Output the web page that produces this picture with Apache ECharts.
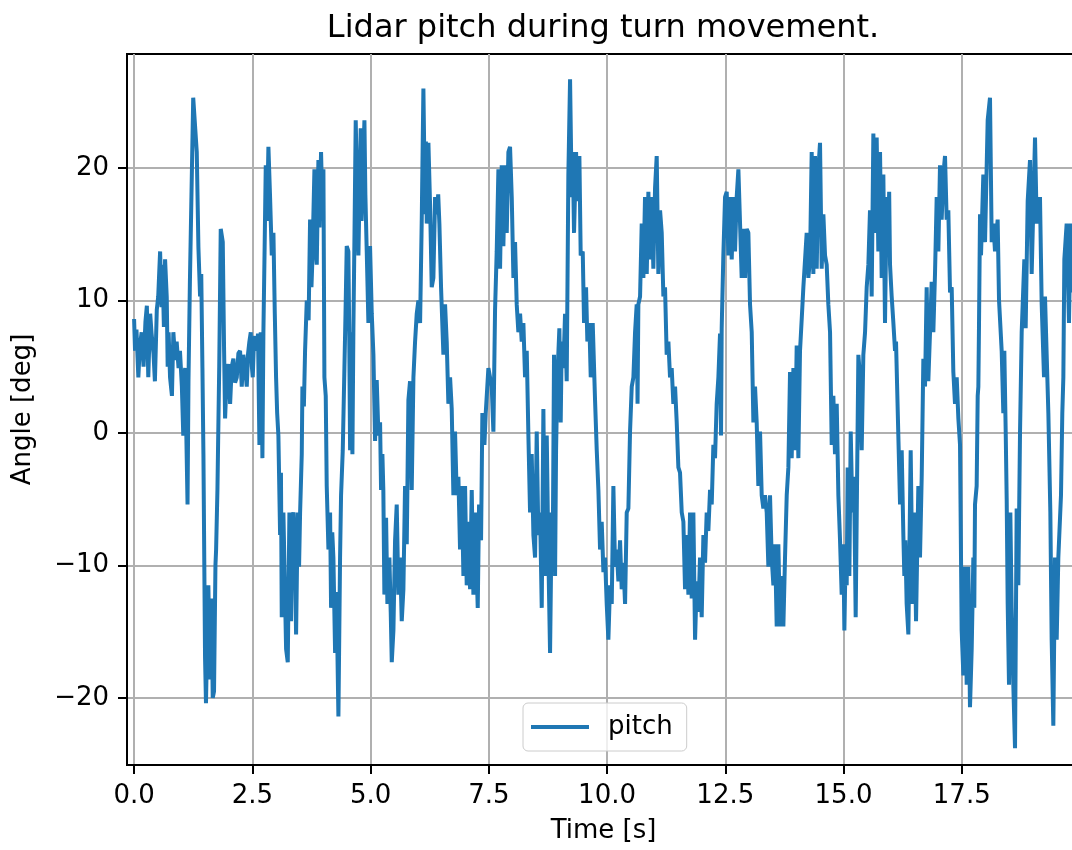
<!DOCTYPE html>
<html>
<head>
<meta charset="utf-8">
<script src="https://cdn.jsdelivr.net/npm/echarts@6/dist/echarts.min.js"></script>
<style>html,body{margin:0;padding:0;background:#fff}#c{width:1072px;height:850px}</style>
</head>
<body>
<div id="c"></div>
<script>
const xTicks = [0, 2.5, 5, 7.5, 10, 12.5, 15, 17.5];
const yTicks = [-20, -10, 0, 10, 20];
const time = [
0.00,0.02,0.05,0.09,0.12,0.16,0.20,0.24,0.27,0.30,0.34,0.37,0.41,0.44,0.48,0.51,0.55,0.58,0.60,0.63,
0.655,0.69,0.71,0.73,0.76,0.80,0.83,0.87,0.90,0.94,0.97,1.01,1.04,1.06,1.08,1.11,1.13,1.15,1.18,1.22,
1.25,1.29,1.325,1.36,1.395,1.42,1.445,1.466,1.50,1.52,1.55,1.57,1.607,1.635,1.663,1.69,1.72,1.734,1.762,1.80,
1.832,1.875,1.903,1.924,1.96,1.994,2.03,2.065,2.10,2.135,2.171,2.205,2.241,2.276,2.311,2.345,2.382,2.41,2.438,2.467,
2.49,2.509,2.535,2.558,2.593,2.62,2.65,2.678,2.70,2.713,2.734,2.76,2.784,2.81,2.84,2.875,2.911,2.946,2.975,3.002,
3.025,3.051,3.087,3.105,3.122,3.157,3.19,3.214,3.249,3.284,3.30,3.319,3.345,3.369,3.40,3.425,3.46,3.488,3.51,3.545,
3.559,3.59,3.615,3.651,3.69,3.721,3.75,3.77,3.813,3.84,3.862,3.897,3.92,3.953,3.98,4.003,4.024,4.052,4.073,4.109,
4.144,4.165,4.19,4.214,4.25,4.28,4.32,4.355,4.376,4.412,4.447,4.47,4.496,4.531,4.55,4.567,4.588,4.616,4.637,4.66,
4.686,4.715,4.743,4.77,4.792,4.81,4.834,4.87,4.89,4.919,4.954,4.989,5.025,5.06,5.095,5.13,5.166,5.201,5.222,5.25,
5.27,5.292,5.328,5.356,5.398,5.426,5.448,5.483,5.518,5.553,5.588,5.624,5.659,5.694,5.729,5.765,5.80,5.835,5.87,5.906,
5.941,5.976,6.011,6.047,6.082,6.117,6.152,6.17,6.188,6.223,6.258,6.293,6.328,6.364,6.399,6.43,6.455,6.49,6.54,6.575,
6.61,6.645,6.681,6.716,6.751,6.786,6.822,6.857,6.892,6.927,6.963,6.998,7.033,7.068,7.104,7.139,7.174,7.209,7.266,7.294,
7.336,7.364,7.407,7.435,7.46,7.491,7.526,7.562,7.597,7.632,7.667,7.703,7.738,7.773,7.808,7.844,7.879,7.914,7.949,7.985,
8.02,8.055,8.09,8.125,8.161,8.196,8.231,8.266,8.302,8.337,8.372,8.407,8.443,8.478,8.513,8.548,8.584,8.619,8.654,8.689,
8.725,8.76,8.795,8.83,8.851,8.879,8.901,8.922,8.95,8.992,9.02,9.042,9.077,9.112,9.147,9.182,9.218,9.253,9.274,9.302,
9.345,9.373,9.415,9.443,9.486,9.514,9.556,9.584,9.626,9.655,9.697,9.746,9.782,9.817,9.852,9.887,9.923,9.958,9.993,10.028,
10.063,10.099,10.134,10.169,10.204,10.24,10.275,10.31,10.345,10.381,10.416,10.451,10.486,10.522,10.557,10.592,10.627,10.645,10.662,10.698,
10.733,10.768,10.803,10.839,10.874,10.909,10.944,10.979,11.015,11.05,11.085,11.121,11.156,11.191,11.226,11.261,11.297,11.332,11.367,11.402,
11.438,11.473,11.508,11.543,11.579,11.614,11.649,11.684,11.72,11.755,11.79,11.825,11.861,11.896,11.931,11.966,12.001,12.037,12.072,12.107,
12.142,12.178,12.213,12.248,12.283,12.318,12.354,12.389,12.41,12.424,12.459,12.495,12.53,12.565,12.60,12.636,12.671,12.706,12.741,12.777,
12.812,12.847,12.882,12.918,12.953,12.988,13.023,13.059,13.094,13.129,13.164,13.199,13.235,13.27,13.305,13.34,13.376,13.411,13.446,13.481,
13.517,13.552,13.587,13.622,13.658,13.693,13.728,13.763,13.799,13.834,13.869,13.904,13.94,13.975,14.01,14.045,14.08,14.116,14.151,14.186,
14.221,14.256,14.292,14.327,14.362,14.397,14.433,14.468,14.503,14.538,14.574,14.609,14.644,14.679,14.715,14.75,14.785,14.82,14.856,14.891,
14.926,14.961,14.996,15.018,15.046,15.067,15.088,15.123,15.152,15.187,15.222,15.257,15.293,15.314,15.349,15.384,15.419,15.455,15.49,15.525,
15.56,15.595,15.631,15.666,15.701,15.736,15.772,15.807,15.842,15.877,15.913,15.948,15.965,15.983,16.018,16.054,16.089,16.11,16.159,16.195,
16.23,16.265,16.286,16.307,16.335,16.371,16.42,16.462,16.497,16.533,16.582,16.617,16.653,16.688,16.723,16.758,16.793,16.829,16.864,16.899,
16.934,16.97,17.005,17.04,17.075,17.11,17.146,17.181,17.216,17.252,17.287,17.322,17.357,17.393,17.428,17.463,17.498,17.534,17.569,17.604,
17.639,17.674,17.71,17.745,17.765,17.78,17.815,17.837,17.851,17.865,17.886,17.907,17.956,17.992,18.048,18.097,18.133,18.168,18.203,18.259,
18.288,18.344,18.379,18.40,18.429,18.45,18.471,18.499,18.527,18.555,18.59,18.626,18.661,18.696,18.732,18.767,18.823,18.851,18.894,18.943,
18.978,19.049,19.084,19.154,19.19,19.239,19.26,19.331,19.373,19.401,19.436,19.471,19.507,19.542,19.598,19.626,19.648,19.669,19.718,19.767,
19.803,19.831
];
const pitch = [
8.6,6.2,7.8,4.2,6.5,7.6,5.0,8.4,9.6,4.2,9.0,7.5,6.0,3.9,9.3,10.3,13.7,9.5,12.7,8.0,
13.1,10.3,5.0,7.6,4.2,2.8,7.6,5.5,6.9,4.9,6.2,3.5,-0.2,4.0,4.9,4.9,-5.4,4.0,11.4,11.4,
25.3,25.3,21.2,14.0,10.3,12.0,4.9,-1.6,-16.9,-20.4,-14.6,-11.5,-18.6,-12.5,-20.0,-19.5,-10.0,-8.8,-4.3,5.0,
15.4,14.4,6.2,1.1,4.5,5.2,2.2,5.0,5.6,3.8,4.2,6.0,6.2,3.5,5.9,5.0,3.5,6.0,6.9,7.6,
5.0,4.2,7.0,7.3,6.2,7.5,-0.9,7.6,3.0,-1.9,7.6,14.0,20.2,16.0,21.6,17.8,13.4,15.1,9.0,4.2,
1.5,-0.2,-7.7,-3.0,-13.9,-6.0,-12.0,-16.3,-17.3,-6.0,-10.0,-14.2,-6.5,-6.0,-8.8,-15.2,-6.0,-10.1,-6.0,-1.6,
3.5,2.0,6.2,10.0,8.5,16.1,11.0,13.1,19.9,14.0,12.7,20.6,15.5,21.2,17.0,19.9,4.2,2.8,-4.0,-8.8,
-6.0,-13.2,-7.5,-9.4,-16.6,-12.0,-21.4,-9.4,-4.7,-1.3,4.9,9.0,14.1,13.7,7.0,-1.3,7.6,-1.6,7.9,15.0,
23.6,18.0,13.4,19.0,23.0,16.0,16.1,23.6,18.0,13.7,8.3,14.1,9.0,5.9,-0.6,4.0,-0.2,0.8,-4.3,-1.6,
-4.3,-12.2,-6.4,-12.9,-9.4,-13.5,-17.3,-14.9,-8.1,-5.4,-12.2,-9.4,-14.2,-11.8,-4.0,-8.4,2.5,3.9,-4.3,4.2,
6.9,9.0,10.0,8.3,16.1,26.0,16.5,22.0,15.8,21.9,17.2,11.0,11.7,17.8,16.5,18.0,15.8,11.0,5.9,9.7,
6.9,2.2,4.2,1.8,-4.7,0.1,-4.7,-3.3,-8.8,-4.0,-10.8,-4.0,-11.5,-6.7,-11.8,-4.3,-12.2,-6.0,-13.2,-5.4,
-8.1,1.5,-0.9,1.5,3.0,4.9,4.2,3.5,0.1,9.3,13.7,19.9,12.4,20.2,14.1,20.2,15.1,21.2,21.6,17.8,
11.7,14.4,9.7,7.6,9.0,6.9,8.3,4.2,6.2,-0.2,-6.0,-1.6,-7.7,-9.4,0.1,-7.7,-6.0,-13.2,1.8,-10.8,
-0.2,-9.4,-16.6,-6.0,-9.4,5.9,-10.8,-1.3,4.2,7.9,0.8,6.9,4.9,9.0,3.9,19.5,26.7,17.8,21.2,15.1,
21.2,17.5,20.9,13.4,13.7,8.3,11.0,6.9,8.3,4.2,8.3,2.5,-1.3,-4.3,-8.8,-6.7,-10.5,-9.4,-12.9,-15.6,
-11.5,-12.9,-4.0,-10.1,-8.8,-11.2,-8.1,-11.8,-9.8,-12.9,-6.0,-5.7,0.1,3.5,4.2,7.6,9.7,2.2,9.7,10.3,
15.8,11.7,17.8,12.0,18.2,13.1,17.8,12.4,18.5,20.9,12.0,16.8,15.1,10.3,11.0,5.9,6.9,4.2,4.9,2.2,
3.5,0.8,-2.6,-3.0,-6.0,-6.7,-11.8,-7.7,-12.2,-6.0,-12.5,-6.0,-15.6,-11.2,-13.5,-9.4,-13.9,-7.7,-9.8,-6.0,
-7.4,-4.3,-5.4,-0.9,-1.9,2.2,4.2,7.5,-0.2,7.9,13.4,17.8,18.2,13.4,17.8,13.1,17.8,13.7,17.8,19.9,
19.9,11.7,15.4,11.7,15.4,15.1,9.7,7.6,0.8,3.5,0.8,-4.0,0.1,-4.7,-5.7,-4.7,-6.0,-10.1,-4.7,-9.4,
-11.5,-8.4,-14.6,-8.4,-14.6,-10.8,-14.6,-9.4,-4.7,-2.6,4.6,-1.9,4.9,-1.3,6.6,-1.9,6.2,8.6,11.0,11.0,
15.1,11.7,13.1,21.2,12.0,20.9,12.4,19.9,21.9,12.4,16.5,13.4,12.7,9.7,7.6,-0.9,2.8,-1.6,2.2,-4.7,
-8.1,-12.2,-8.4,-14.9,-8.8,-11.5,-2.6,-10.8,0.1,-6.0,-3.3,-13.9,-1.3,5.9,4.2,-1.3,5.9,7.6,11.0,12.7,
16.8,10.3,22.6,15.1,22.3,13.7,21.2,11.7,19.5,8.3,17.8,15.1,18.2,12.7,10.3,8.3,6.2,6.9,-0.2,-5.4,
-1.3,-7.7,-10.8,-8.1,-12.9,-15.2,-1.3,-12.9,-6.0,-14.2,-4.0,-9.4,-3.3,5.6,3.5,11.0,3.9,7.6,11.4,7.6,
12.0,17.8,13.7,20.2,16.1,19.5,20.9,16.1,16.8,10.6,11.0,4.6,2.2,4.2,1.1,-0.9,-14.9,-18.3,-10.1,-19.0,
-10.1,-20.7,-16.3,-9.4,-13.2,-5.4,-4.0,2.8,3.5,8.3,16.5,13.4,19.5,14.4,23.6,25.3,14.4,15.8,13.7,16.1,
10.0,6.2,1.5,6.2,0.1,-5.0,-12.9,-19.0,-6.0,-13.2,-19.0,-23.8,-5.7,-11.5,0.1,7.6,13.1,7.9,17.5,20.6,
12.0,22.3,15.8,17.8,9.7,4.2,10.3,1.5,-6.0,-15.6,-22.1,-9.4,-15.6,-9.4,-4.7,1.5,4.2,13.1,15.8,8.3,
15.8,10.6
];

const FONT = 'DejaVu Sans';
const minus = s => String(s).replace('-', '\u2212');
const data = time.map((t, i) => [t, pitch[i]]);

const chart = echarts.init(document.getElementById('c'), null, {renderer: 'canvas'});
chart.setOption({
  animation: false,
  backgroundColor: '#ffffff',
  title: {
    text: 'Lidar pitch during turn movement.',
    left: 598, top: 8, textAlign: 'center',
    textStyle: {fontFamily: FONT, fontSize: 32, fontWeight: 'normal', color: '#000'}
  },
  grid: {
    left: 127, top: 54, right: -8, bottom: 85,
    outerBoundsMode: 'none', containLabel: false,
    show: true, borderColor: '#000', borderWidth: 2, backgroundColor: '#fff'
  },
  legend: {
    left: 523, top: 703,
    padding: [11, 14, 11, 8],
    backgroundColor: 'rgba(255,255,255,0.8)',
    borderColor: '#cccccc', borderWidth: 1, borderRadius: 5,
    icon: 'rect',
    itemWidth: 58, itemHeight: 4,
    itemStyle: {color: '#1f77b4'},
    textStyle: {fontFamily: FONT, fontSize: 26, color: '#000', padding: [0, 0, 0, 14]},
    data: [{name: 'pitch', icon: 'rect'}]
  },
  xAxis: {
    type: 'value', min: -0.15, max: 20,
    name: 'Time [s]', nameLocation: 'middle', nameGap: 53,
    nameTextStyle: {fontFamily: FONT, fontSize: 26, color: '#000'},
    axisLine: {show: true, onZero: false, lineStyle: {color: '#000', width: 2}},
    axisTick: {show: true, length: 9, lineStyle: {color: '#000', width: 2}, customValues: xTicks},
    axisLabel: {customValues: xTicks, margin: 18, fontFamily: FONT, fontSize: 26, color: '#000',
      formatter: v => minus(Number(v).toFixed(1))},
    splitLine: {show: true, lineStyle: {color: '#b0b0b0', width: 2}}
  },
  yAxis: {
    type: 'value', min: -25.06, max: 28.6,
    name: 'Angle [deg]', nameLocation: 'middle', nameGap: 91,
    nameTextStyle: {fontFamily: FONT, fontSize: 26, color: '#000'},
    axisLine: {show: true, onZero: false, lineStyle: {color: '#000', width: 2}},
    axisTick: {show: true, length: 9, lineStyle: {color: '#000', width: 2}, customValues: yTicks},
    axisLabel: {customValues: yTicks, margin: 18, fontFamily: FONT, fontSize: 26, color: '#000',
      formatter: v => minus(v)},
    splitLine: {show: true, lineStyle: {color: '#b0b0b0', width: 2}}
  },
  series: [{
    name: 'pitch', type: 'line', data: data,
    symbol: 'none', clip: true,
    lineStyle: {color: '#1f77b4', width: 4},
    itemStyle: {color: '#1f77b4'}
  }]
});
</script>
</body>
</html>
